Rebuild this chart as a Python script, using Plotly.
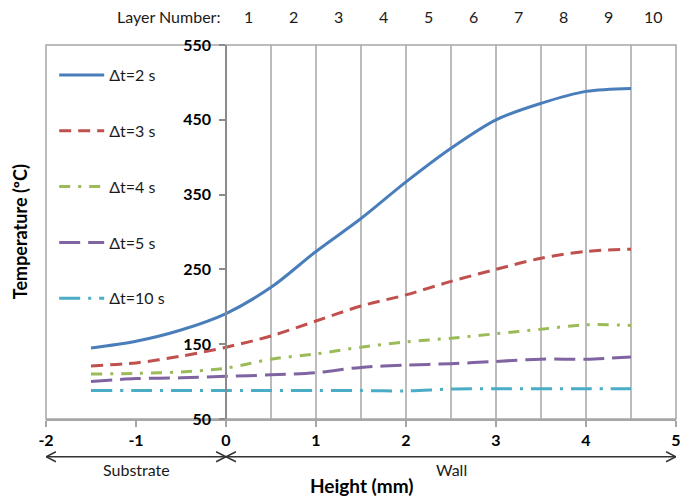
import plotly.graph_objects as go

# Temperature profile along the build height for different inter-layer dwell times
height_mm = [-1.5, -1.0, -0.5, 0.0, 0.5, 1.0, 1.5, 2.0, 2.5, 3.0, 3.5, 4.0, 4.5]
temp_dt2 = [145, 154, 169, 191, 226, 274, 318, 367, 412, 450, 472, 488, 492]
temp_dt3 = [121, 125, 134, 146, 161, 181, 201, 216, 234, 250, 265, 274, 277]
temp_dt4 = [110, 111, 113, 118, 130, 137, 146, 153, 158, 164, 170, 176, 175]
temp_dt5 = [100, 104, 105, 107, 109, 112, 119, 122, 124, 127, 130, 130, 133]
temp_dt10 = [88, 88, 88, 88, 88, 88, 88, 87.5, 90, 90.5, 90.5, 90.5, 90.5]

series_names = ["Δt=2 s", "Δt=3 s", "Δt=4 s", "Δt=5 s", "Δt=10 s"]
series_values = [temp_dt2, temp_dt3, temp_dt4, temp_dt5, temp_dt10]
series_colors = ["#4A7EBB", "#C0504D", "#9BBB59", "#8064A2", "#4BACC6"]
series_dashes = ["solid", "12px,7px", "11px,8px,3px,8px", "21px,8px", "21px,8px,3px,8px"]

x_tick_vals = [-2, -1, 0, 1, 2, 3, 4, 5]
x_tick_labels = ["-2", "-1", "0", "1", "2", "3", "4", "5"]

layer_numbers = ["1", "2", "3", "4", "5", "6", "7", "8", "9", "10"]
layer_centers = [0.25, 0.75, 1.25, 1.75, 2.25, 2.75, 3.25, 3.75, 4.25, 4.75]
layer_edges = [0.5, 1.0, 1.5, 2.0, 2.5, 3.0, 3.5, 4.0, 4.5]

FONT = "Lato"
GRID = "#A6A6A6"
TXT = "#1a1a1a"

fig = go.Figure()
for name, vals, col, dash in zip(series_names, series_values, series_colors, series_dashes):
    fig.add_trace(go.Scatter(
        x=height_mm, y=vals, name=name, mode="lines", legendgroup=name,
        line=dict(color=col, width=3, dash=dash, shape="spline", smoothing=0.9),
    ))

shapes = []
# layer boundaries
for e in layer_edges:
    shapes.append(dict(type="line", xref="x", yref="paper", x0=e, x1=e, y0=0, y1=1,
                       line=dict(color=GRID, width=1.5), layer="below"))
# plot frame
shapes.append(dict(type="rect", xref="paper", yref="paper", x0=0, x1=1, y0=0, y1=1,
                   line=dict(color=GRID, width=1.5), layer="below"))

# region arrows below the axis: Substrate (-2..0) and Wall (0..5)
ya = -0.101
dy = 0.0134
dx = 0.11
ACOL = "#333333"
shapes.append(dict(type="line", xref="x", yref="paper", x0=-2, x1=5, y0=ya, y1=ya,
                   line=dict(color=ACOL, width=1.5)))
for xe, sgn in [(-2, 1), (0, -1), (0, 1), (5, -1)]:
    shapes.append(dict(type="path", xref="x", yref="paper",
                       path=f"M {xe + sgn * dx} {ya + dy} L {xe} {ya} L {xe + sgn * dx} {ya - dy}",
                       line=dict(color=ACOL, width=1.5)))


def note(text, x, y, xref="x", size=16, color=TXT, xanchor="center", angle=0):
    return dict(x=x, y=y, xref=xref, yref="paper", text=text, showarrow=False,
                xanchor=xanchor, yanchor="middle", textangle=angle,
                font=dict(family=FONT, size=size, color=color))


annotations = []
for xc, lab in zip(layer_centers, layer_numbers):
    annotations.append(note(lab, xc, 1.075))
annotations.append(note("Layer Number:", -0.04, 1.075, xanchor="right"))
annotations.append(note("Substrate", -1, -0.135))
annotations.append(note("Wall", 2.5, -0.135))
annotations.append(note("<b>Height (mm)</b>", 0.5, -0.178, xref="paper", size=19, color="#000"))
annotations.append(note("<b>Temperature (ºC)</b>", -0.041, 0.5, xref="paper", size=18,
                        color="#000", angle=-90))

fig.update_layout(
    width=692, height=500,
    margin=dict(l=46, r=16, t=45, b=81),
    paper_bgcolor="white", plot_bgcolor="white",
    font=dict(family=FONT, color=TXT),
    xaxis=dict(range=[-2, 5], tickmode="array", tickvals=x_tick_vals,
               ticktext=[f"<b>{t}</b>" for t in x_tick_labels],
               showgrid=False, zeroline=False,
               showline=True, linecolor=GRID, linewidth=1.5, ticks="outside", ticklen=6,
               tickcolor=GRID, tickwidth=1.5, tickfont=dict(family=FONT, size=16, color="#000")),
    yaxis=dict(range=[50, 550], tickmode="linear", tick0=50, dtick=100, showgrid=False, zeroline=False,
               anchor="free", position=2 / 7, showline=True, linecolor="#8c8c8c", linewidth=1.5,
               ticks="outside", ticklen=6, tickcolor="#8c8c8c", tickwidth=1.5,
               ticklabelstandoff=5,
               tickfont=dict(family=FONT, size=16, color="#000", weight="bold")),
    showlegend=True,
    legend=dict(x=0.013, y=0.965, xanchor="left", yanchor="top", bgcolor="rgba(0,0,0,0)",
                tracegroupgap=32, itemwidth=45, font=dict(family=FONT, size=16, color=TXT)),
    shapes=shapes, annotations=annotations,
)

fig.write_html("out.html")
